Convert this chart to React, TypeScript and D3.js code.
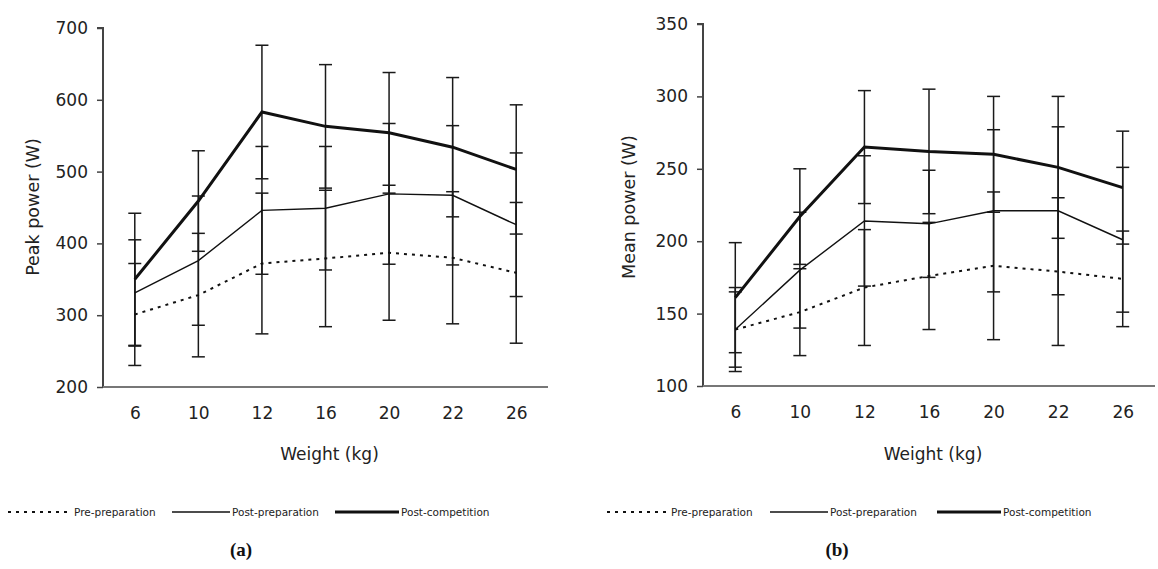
import React, { useEffect, useRef } from "react";
import * as d3 from "d3";

const width = 1158;
const height = 569;
const font = "DejaVu Sans, Verdana, sans-serif";

const weights = ["6", "10", "12", "16", "20", "22", "26"];
const seriesNames = ["Pre-preparation", "Post-preparation", "Post-competition"];

// (a) peak power, mean and SD per weight
const peakPre = [301, 328, 372, 379, 387, 380, 359];
const peakPreSd = [71, 86, 98, 95, 94, 92, 98];
const peakPostPrep = [331, 376, 446, 449, 469, 467, 426];
const peakPostPrepSd = [74, 90, 89, 86, 98, 97, 100];
const peakPostComp = [350, 459, 583, 563, 554, 534, 503];
const peakPostCompSd = [92, 70, 93, 86, 84, 97, 90];
const peakTicks = [200, 300, 400, 500, 600, 700];

// (b) mean power
const meanPre = [139, 151, 168, 176, 183, 179, 174];
const meanPreSd = [26, 30, 40, 37, 51, 51, 33];
const meanPostPrep = [139, 180, 214, 212, 221, 221, 201];
const meanPostPrepSd = [29, 40, 45, 37, 56, 58, 50];
const meanPostComp = [161, 217, 265, 262, 260, 251, 237];
const meanPostCompSd = [38, 33, 39, 43, 40, 49, 39];
const meanTicks = [100, 150, 200, 250, 300, 350];

const lineStyles = [
  { width: 2, dash: "3,5" },
  { width: 1.4, dash: null },
  { width: 3, dash: null },
];

const panels = [
  {
    x0: 103, x1: 548, yTop: 28, yBottom: 387,
    domain: [200, 700], ticks: peakTicks, label: "Peak power (W)", labelX: 33,
    series: [[peakPre, peakPreSd], [peakPostPrep, peakPostPrepSd], [peakPostComp, peakPostCompSd]],
    legendX: [8, 172, 335], legendLen: [64, 58, 64], caption: "(a)", captionX: 241,
  },
  {
    x0: 703, x1: 1155, yTop: 24, yBottom: 386,
    domain: [100, 350], ticks: meanTicks, label: "Mean power (W)", labelX: 629,
    series: [[meanPre, meanPreSd], [meanPostPrep, meanPostPrepSd], [meanPostComp, meanPostCompSd]],
    legendX: [607, 770, 937], legendLen: [62, 58, 64], caption: "(b)", captionX: 837,
  },
];

const App = () => {
  const ref = useRef(null);

  useEffect(() => {
    const svg = d3.select(ref.current);
    svg.selectAll("*").remove();
    svg.append("rect").attr("width", width).attr("height", height).attr("fill", "#fff");

    panels.forEach((p) => {
      const g = svg.append("g");
      const x = d3.scalePoint().domain(weights).range([p.x0, p.x1]).padding(0.5);
      const y = d3.scaleLinear().domain(p.domain).range([p.yBottom, p.yTop]);

      // error bars (mean ± SD)
      p.series.forEach(([means, sds]) => {
        const eb = g.append("g").attr("stroke", "#1a1a1a").attr("stroke-width", 1.5);
        weights.forEach((w, i) => {
          const cx = x(w);
          const hi = y(means[i] + sds[i]);
          const lo = y(means[i] - sds[i]);
          eb.append("line").attr("x1", cx).attr("x2", cx).attr("y1", hi).attr("y2", lo);
          eb.append("line").attr("x1", cx - 6.5).attr("x2", cx + 6.5).attr("y1", hi).attr("y2", hi);
          eb.append("line").attr("x1", cx - 6.5).attr("x2", cx + 6.5).attr("y1", lo).attr("y2", lo);
        });
      });

      const line = d3.line().x((d) => d[0]).y((d) => d[1]);
      p.series.forEach(([means], k) => {
        const st = lineStyles[k];
        g.append("path")
          .attr("d", line(weights.map((w, i) => [x(w), y(means[i])])))
          .attr("fill", "none")
          .attr("stroke", "#111")
          .attr("stroke-width", st.width)
          .attr("stroke-dasharray", st.dash);
      });

      const yAxis = d3.axisLeft(y).tickValues(p.ticks).tickSize(6).tickPadding(9);
      g.append("g")
        .attr("transform", `translate(${p.x0},0)`)
        .call(yAxis)
        .call((a) => a.select(".domain").attr("stroke", "#444").attr("stroke-width", 2).attr("d", `M-6,${p.yTop}H0V${p.yBottom}`))
        .call((a) => a.selectAll(".tick line").attr("stroke", "#444").attr("stroke-width", 1.5))
        .call((a) => a.selectAll(".tick text").attr("fill", "#222").attr("font-size", 17).attr("font-family", font));

      const xAxis = d3.axisBottom(x).tickSize(0).tickPadding(20);
      g.append("g")
        .attr("transform", `translate(0,${p.yBottom})`)
        .call(xAxis)
        .call((a) => a.select(".domain").attr("stroke", "#777").attr("stroke-width", 2).attr("d", `M${p.x0},0H${p.x1}`))
        .call((a) => a.selectAll(".tick text").attr("fill", "#222").attr("font-size", 17).attr("font-family", font));

      g.append("text")
        .attr("x", (p.x0 + p.x1) / 2 + 4)
        .attr("y", 460)
        .attr("text-anchor", "middle")
        .attr("font-size", 17)
        .attr("font-family", font)
        .attr("fill", "#222")
        .text("Weight (kg)");

      g.append("text")
        .attr("transform", `translate(${p.labelX},207) rotate(-90)`)
        .attr("text-anchor", "middle")
        .attr("dominant-baseline", "central")
        .attr("font-size", 17.5)
        .attr("font-family", font)
        .attr("fill", "#222")
        .text(p.label);

      // legend
      seriesNames.forEach((name, k) => {
        const st = lineStyles[k];
        const lx = p.legendX[k];
        g.append("line")
          .attr("x1", lx).attr("x2", lx + p.legendLen[k])
          .attr("y1", 512).attr("y2", 512)
          .attr("stroke", "#111")
          .attr("stroke-width", st.width)
          .attr("stroke-dasharray", st.dash);
        g.append("text")
          .attr("x", lx + p.legendLen[k] + 2)
          .attr("y", 512)
          .attr("dominant-baseline", "central")
          .attr("font-size", 10.5)
          .attr("font-family", font)
          .attr("fill", "#222")
          .text(name);
      });

      g.append("text")
        .attr("x", p.captionX)
        .attr("y", 556)
        .attr("text-anchor", "middle")
        .attr("font-size", 19)
        .attr("font-weight", "bold")
        .attr("font-family", "Liberation Serif, serif")
        .attr("fill", "#111")
        .text(p.caption);
    });
  }, []);

  return (
    <svg
      ref={ref}
      width={width}
      height={height}
      style={{ position: "absolute", left: 0, top: 0 }}
    />
  );
};

export default App;
